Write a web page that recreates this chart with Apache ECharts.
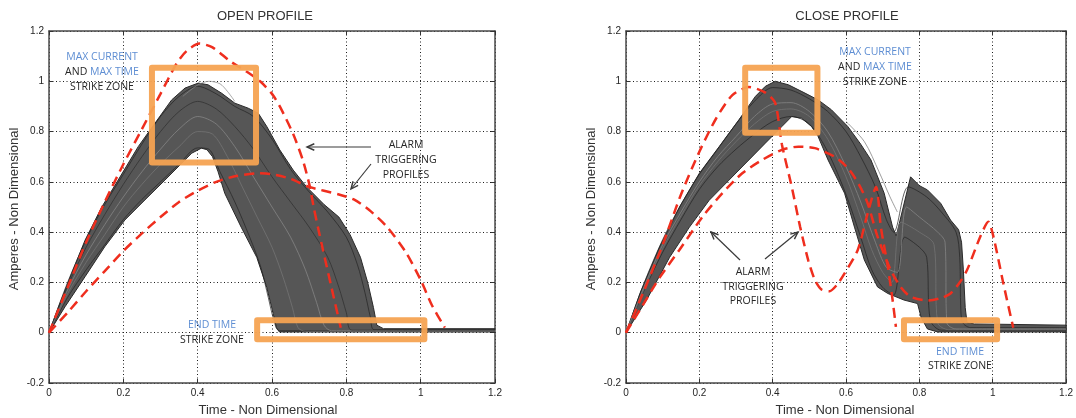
<!DOCTYPE html>
<html><head><meta charset="utf-8">
<script src="https://cdn.jsdelivr.net/npm/echarts@6/dist/echarts.min.js"></script>
<style>html,body{margin:0;padding:0;background:#fff}#c{width:1076px;height:418px}</style>
</head><body><div id="c"></div>
<script>
// ---------- axis setup ----------
const X_MIN = 0, X_MAX = 1.2, X_STEP = 0.2;
const Y_MIN = -0.2, Y_MAX = 1.2, Y_STEP = 0.2;
const titles = ['OPEN PROFILE', 'CLOSE PROFILE'];
const xName = 'Time - Non Dimensional';
const yName = 'Amperes - Non Dimensional';

// ---------- OPEN PROFILE data ----------
const openBundleUpper = [[0,0],[0.025,0.10],[0.061,0.236],[0.097,0.368],[0.142,0.50],[0.186,0.607],[0.24,0.74],[0.285,0.833],[0.33,0.926],[0.366,0.973],[0.402,0.993],[0.428,0.986],[0.464,0.953],[0.5,0.913],[0.536,0.893],[0.563,0.873],[0.586,0.82],[0.621,0.727],[0.657,0.647],[0.693,0.58],[0.74,0.51],[0.78,0.46],[0.81,0.39],[0.838,0.3],[0.858,0.197],[0.873,0.1],[0.882,0.03],[0.9,0.016],[1.2,0.016]];
const openBundleLower = [[1.2,0.003],[0.62,0.003],[0.612,0.02],[0.603,0.077],[0.586,0.18],[0.559,0.30],[0.517,0.42],[0.473,0.554],[0.455,0.64],[0.44,0.70],[0.425,0.728],[0.41,0.734],[0.384,0.714],[0.357,0.674],[0.312,0.607],[0.258,0.528],[0.204,0.448],[0.15,0.342],[0.097,0.223],[0.043,0.103],[0,0]];
const openCurveA = [[0,0],[0.05,0.2],[0.1,0.37],[0.15,0.51],[0.2,0.63],[0.25,0.75],[0.3,0.86],[0.35,0.94],[0.4,0.98],[0.45,0.95],[0.5,0.9],[0.55,0.86],[0.6,0.77],[0.65,0.65],[0.7,0.56],[0.75,0.48],[0.8,0.38],[0.83,0.27],[0.85,0.16],[0.865,0.06],[0.875,0.012],[1.2,0.012]];
const openCurveB = [[0,0],[0.05,0.14],[0.1,0.25],[0.15,0.35],[0.2,0.45],[0.25,0.53],[0.3,0.6],[0.35,0.67],[0.4,0.735],[0.43,0.73],[0.46,0.64],[0.5,0.52],[0.54,0.38],[0.57,0.26],[0.59,0.14],[0.605,0.05],[0.62,0.008],[1.2,0.008]];
const openCurveC = [[0,0],[0.05,0.17],[0.1,0.31],[0.15,0.43],[0.2,0.54],[0.25,0.64],[0.3,0.73],[0.35,0.81],[0.4,0.86],[0.45,0.83],[0.5,0.74],[0.55,0.62],[0.6,0.5],[0.65,0.38],[0.69,0.25],[0.72,0.12],[0.74,0.03],[0.76,0.008],[1.2,0.008]];
const openCurveD = [[0,0],[0.05,0.185],[0.1,0.34],[0.15,0.47],[0.2,0.59],[0.25,0.7],[0.3,0.8],[0.35,0.88],[0.4,0.92],[0.45,0.89],[0.5,0.82],[0.55,0.73],[0.6,0.62],[0.65,0.52],[0.7,0.42],[0.75,0.3],[0.78,0.18],[0.8,0.08],[0.815,0.01],[1.2,0.01]];
const openCurveE = [[0,0],[0.05,0.155],[0.1,0.28],[0.15,0.39],[0.2,0.5],[0.25,0.59],[0.3,0.67],[0.35,0.74],[0.4,0.8],[0.44,0.79],[0.48,0.7],[0.52,0.58],[0.56,0.46],[0.6,0.34],[0.63,0.22],[0.655,0.1],[0.67,0.02],[0.69,0.006],[1.2,0.006]];
const openOutlier = [[0.36,0.94],[0.4,0.985],[0.43,1.0],[0.46,0.99],[0.48,0.96],[0.5,0.92]];
const openAlarmTall = [[0,0],[0.05,0.18],[0.1,0.36],[0.15,0.52],[0.2,0.67],[0.25,0.81],[0.3,0.95],[0.343,1.07],[0.37,1.12],[0.405,1.15],[0.44,1.135],[0.487,1.08],[0.53,1.04],[0.568,1.0],[0.6,0.95],[0.621,0.9],[0.657,0.79],[0.683,0.686],[0.702,0.58],[0.712,0.5],[0.725,0.41],[0.737,0.33],[0.76,0.18],[0.785,0.02]];
const openAlarmWide = [[0,0],[0.05,0.08],[0.1,0.165],[0.15,0.245],[0.2,0.325],[0.25,0.395],[0.3,0.46],[0.35,0.52],[0.4,0.565],[0.45,0.6],[0.5,0.622],[0.56,0.634],[0.6,0.63],[0.65,0.612],[0.7,0.58],[0.78,0.55],[0.82,0.53],[0.86,0.49],[0.91,0.42],[0.96,0.32],[1.0,0.21],[1.03,0.11],[1.065,0.02]];
const openMaxBox = [[0.277,1.054],[0.557,0.677]];
const openEndBox = [[0.56,0.05],[1.01,-0.026]];

// ---------- CLOSE PROFILE data ----------
const closeBundleUpper = [[0,0],[0.038,0.156],[0.092,0.342],[0.146,0.50],[0.2,0.634],[0.254,0.74],[0.308,0.847],[0.353,0.94],[0.38,0.98],[0.407,1.0],[0.443,0.986],[0.488,0.953],[0.524,0.926],[0.56,0.887],[0.605,0.82],[0.64,0.75],[0.668,0.687],[0.704,0.555],[0.727,0.42],[0.737,0.385],[0.776,0.62],[0.8,0.585],[0.822,0.568],[0.858,0.515],[0.885,0.448],[0.907,0.41],[0.915,0.36],[0.92,0.25],[0.925,0.1],[0.93,0.04],[0.95,0.035],[1.2,0.03]];
const closeBundleLower = [[1.2,0.003],[0.85,0.003],[0.822,0.015],[0.805,0.06],[0.795,0.116],[0.758,0.13],[0.714,0.156],[0.686,0.182],[0.65,0.289],[0.623,0.42],[0.596,0.555],[0.551,0.687],[0.524,0.78],[0.506,0.82],[0.479,0.853],[0.452,0.86],[0.425,0.82],[0.38,0.754],[0.335,0.687],[0.281,0.607],[0.227,0.527],[0.173,0.42],[0.119,0.30],[0.056,0.13],[0,0]];
const closeCurveA = [[0,0],[0.05,0.2],[0.1,0.37],[0.15,0.51],[0.2,0.63],[0.25,0.73],[0.3,0.83],[0.35,0.92],[0.4,0.975],[0.45,0.965],[0.5,0.93],[0.55,0.88],[0.6,0.8],[0.64,0.7],[0.68,0.58],[0.71,0.45],[0.73,0.4],[0.77,0.58],[0.82,0.54],[0.86,0.48],[0.9,0.4],[0.91,0.3],[0.915,0.05],[0.94,0.02],[1.2,0.02]];
const closeCurveB = [[0,0],[0.05,0.17],[0.1,0.32],[0.15,0.45],[0.2,0.57],[0.25,0.66],[0.3,0.73],[0.35,0.79],[0.4,0.84],[0.45,0.86],[0.5,0.83],[0.55,0.72],[0.6,0.55],[0.64,0.38],[0.67,0.25],[0.7,0.18],[0.73,0.15],[0.76,0.38],[0.8,0.34],[0.82,0.3],[0.83,0.05],[0.86,0.01],[1.2,0.01]];
const closeCurveC = [[0,0],[0.05,0.185],[0.1,0.35],[0.15,0.48],[0.2,0.6],[0.25,0.7],[0.3,0.78],[0.35,0.86],[0.4,0.91],[0.45,0.915],[0.5,0.88],[0.55,0.8],[0.6,0.66],[0.64,0.52],[0.68,0.36],[0.71,0.26],[0.74,0.24],[0.765,0.5],[0.8,0.46],[0.85,0.4],[0.87,0.36],[0.875,0.04],[0.9,0.015],[1.2,0.015]];
const closeCurveD = [[0,0],[0.05,0.175],[0.1,0.335],[0.15,0.465],[0.2,0.585],[0.25,0.68],[0.3,0.76],[0.35,0.83],[0.4,0.88],[0.45,0.89],[0.5,0.86],[0.55,0.77],[0.6,0.62],[0.64,0.46],[0.67,0.33],[0.7,0.24],[0.725,0.2],[0.75,0.44],[0.8,0.4],[0.84,0.35],[0.85,0.04],[0.88,0.012],[1.2,0.012]];
const closeOutlier = [[0.6,0.84],[0.65,0.76],[0.69,0.64],[0.72,0.54],[0.74,0.48]];
const closeAlarmA = [[0,0],[0.05,0.17],[0.1,0.35],[0.15,0.55],[0.2,0.72],[0.245,0.85],[0.29,0.945],[0.335,0.977],[0.38,0.955],[0.407,0.913],[0.425,0.75],[0.452,0.58],[0.475,0.42],[0.497,0.288],[0.515,0.21],[0.533,0.172],[0.555,0.165],[0.575,0.19],[0.596,0.236],[0.632,0.329],[0.659,0.475],[0.682,0.58],[0.695,0.42],[0.714,0.262],[0.727,0.13],[0.736,0.023]];
const closeAlarmB = [[0,0],[0.05,0.12],[0.092,0.22],[0.146,0.33],[0.209,0.462],[0.263,0.555],[0.317,0.634],[0.371,0.687],[0.425,0.727],[0.47,0.74],[0.515,0.734],[0.569,0.70],[0.605,0.655],[0.635,0.59],[0.659,0.515],[0.686,0.382],[0.722,0.249],[0.75,0.18],[0.776,0.143],[0.822,0.128],[0.86,0.138],[0.885,0.156],[0.91,0.2],[0.93,0.249],[0.966,0.382],[0.988,0.441],[1.002,0.382],[1.029,0.196],[1.056,0.02]];
const closeMaxBox = [[0.325,1.054],[0.522,0.795]];
const closeEndBox = [[0.758,0.05],[1.012,-0.026]];

// ---------- styles ----------
const RED = '#EF2E1E', ORANGE = '#F6A352', BLUE = '#5E8ED3', INK = '#262626';
const chart = echarts.init(document.getElementById('c'), null, {renderer: 'canvas'});

const grids = [
  {left: 49, top: 31, width: 446, height: 352},
  {left: 626, top: 31, width: 444, height: 352}
];
const fmt = v => String(+v.toFixed(1));
const axisLineStyle = {color: '#4a4a4a', width: 1.5};
const tickStyle = {inside: true, length: 4, lineStyle: {color: '#333', width: 1}};
const gridLine = {show: true, lineStyle: {color: '#1e1e1e', width: 1, type: [1, 2.5]}};

const xAxes = [], yAxes = [];
grids.forEach((g, i) => {
  xAxes.push({gridIndex: i, type: 'value', min: X_MIN, max: X_MAX, interval: X_STEP, position: 'bottom',
    axisLine: {onZero: false, lineStyle: axisLineStyle}, axisTick: tickStyle, splitLine: gridLine,
    axisLabel: {formatter: fmt, color: INK, fontSize: 10, fontFamily: 'Liberation Sans', margin: 5}});
  xAxes.push({gridIndex: i, type: 'value', min: X_MIN, max: X_MAX, interval: X_STEP, position: 'top',
    axisLine: {onZero: false, lineStyle: axisLineStyle}, axisTick: tickStyle, splitLine: {show: false},
    axisLabel: {show: false}});
  yAxes.push({gridIndex: i, type: 'value', min: Y_MIN, max: Y_MAX, interval: Y_STEP, position: 'left',
    axisLine: {show: true, onZero: false, lineStyle: axisLineStyle}, axisTick: tickStyle, splitLine: gridLine,
    axisLabel: {formatter: fmt, color: INK, fontSize: 10, fontFamily: 'Liberation Sans', margin: 5}});
  yAxes.push({gridIndex: i, type: 'value', min: Y_MIN, max: Y_MAX, interval: Y_STEP, position: 'right',
    axisLine: {show: true, onZero: false, lineStyle: axisLineStyle}, axisTick: tickStyle, splitLine: {show: false},
    axisLabel: {show: false}});
});

function bundle(i, upper, lower) {
  const poly = upper.concat(lower);
  return {type: 'custom', xAxisIndex: i * 2, yAxisIndex: i * 2, data: [[0, 0]], clip: true, z: 2, silent: true,
    renderItem: (p, api) => ({type: 'polygon', shape: {points: poly.map(pt => api.coord(pt))},
      style: {fill: '#565656', stroke: '#2a2a2a', lineWidth: 1}})};
}
function curve(i, data, color, width, opacity) {
  return {type: 'line', xAxisIndex: i * 2, yAxisIndex: i * 2, data, showSymbol: false, symbol: 'none', smooth: 0.3,
    z: 3, silent: true, lineStyle: {color, width, opacity}};
}
function alarm(i, data) {
  return {type: 'line', xAxisIndex: i * 2, yAxisIndex: i * 2, data, symbol: 'none', smooth: 0.25, z: 5, silent: true,
    lineStyle: {color: RED, width: 2.5, type: [10, 6]}};
}
function box(i, b) {
  const [[x0, y0], [x1, y1]] = b;
  return {type: 'line', xAxisIndex: i * 2, yAxisIndex: i * 2, symbol: 'none', z: 6, silent: true,
    data: [[x0, y0], [x1, y0], [x1, y1], [x0, y1], [x0, y0]],
    lineStyle: {color: ORANGE, width: 6, join: 'round', cap: 'round', opacity: 0.95}};
}

const series = [
  bundle(0, openBundleUpper, openBundleLower),
  curve(0, openCurveA, '#242424', 0.9, 0.8), curve(0, openCurveB, '#242424', 0.9, 0.8),
  curve(0, openCurveC, '#8a8a8a', 0.9, 0.8), curve(0, openCurveD, '#2e2e2e', 0.9, 0.8),
  curve(0, openCurveE, '#7a7a7a', 0.8, 0.8),
  curve(0, openOutlier, '#8a8a8a', 0.8, 0.9),
  alarm(0, openAlarmTall), alarm(0, openAlarmWide),
  box(0, openMaxBox), box(0, openEndBox),
  bundle(1, closeBundleUpper, closeBundleLower),
  curve(1, closeCurveA, '#242424', 0.9, 0.8), curve(1, closeCurveB, '#242424', 0.9, 0.8),
  curve(1, closeCurveC, '#8a8a8a', 0.9, 0.8), curve(1, closeCurveD, '#7a7a7a', 0.8, 0.8),
  curve(1, closeOutlier, '#777', 0.8, 0.9),
  alarm(1, closeAlarmA), alarm(1, closeAlarmB),
  box(1, closeMaxBox), box(1, closeEndBox)
];

// ---------- text & arrows ----------
const AF = '"Open Sans", sans-serif';
function txt(x, y, text, color, size, family, extra) {
  return Object.assign({type: 'text', x, y, z: 20, silent: true,
    style: {text, fill: color, font: size + 'px ' + family, align: 'center', verticalAlign: 'middle'}}, extra || {});
}
function rich(x, y) {
  return {type: 'text', x, y, z: 20, silent: true,
    style: {text: 'AND {b|MAX TIME}', fill: INK, font: '10.5px ' + AF, align: 'center', verticalAlign: 'middle',
      rich: {b: {fill: BLUE, font: '10.5px ' + AF}}}};
}
function arrow(x1, y1, x2, y2) {
  const a = Math.atan2(y2 - y1, x2 - x1), L = 8, w = 0.42;
  const p1 = [x2 - L * Math.cos(a - w), y2 - L * Math.sin(a - w)];
  const p2 = [x2 - L * Math.cos(a + w), y2 - L * Math.sin(a + w)];
  return [
    {type: 'line', z: 20, silent: true, shape: {x1, y1, x2, y2}, style: {stroke: '#3a3a3a', lineWidth: 1.2}},
    {type: 'polyline', z: 20, silent: true, shape: {points: [p1, [x2, y2], p2]}, style: {stroke: '#3a3a3a', lineWidth: 1.4, fill: null}}
  ];
}
const TF = '"Liberation Sans", Arial, sans-serif';
const graphics = [
  txt(265, 16, titles[0], '#333', 13, TF), txt(847, 16, titles[1], '#333', 13, TF),
  txt(14, 209, yName, '#333', 13, TF, {rotation: Math.PI / 2}),
  txt(591, 209, yName, '#333', 13, TF, {rotation: Math.PI / 2}),
  txt(268, 410, xName, '#333', 13, TF), txt(845, 410, xName, '#333', 13, TF),
  // open annotations
  txt(102, 57, 'MAX CURRENT', BLUE, 10.5, AF), rich(102, 72), txt(102, 87, 'STRIKE ZONE', INK, 10.5, AF),
  txt(212, 325, 'END TIME', BLUE, 10.5, AF), txt(212, 340, 'STRIKE ZONE', INK, 10.5, AF),
  txt(406, 145, 'ALARM', INK, 10.5, AF), txt(406, 160, 'TRIGGERING', INK, 10.5, AF), txt(406, 175, 'PROFILES', INK, 10.5, AF),
  ...arrow(371, 147, 307, 147), ...arrow(371, 164, 351, 189),
  // close annotations
  txt(875, 52, 'MAX CURRENT', BLUE, 10.5, AF), rich(875, 67), txt(875, 82, 'STRIKE ZONE', INK, 10.5, AF),
  txt(960, 352, 'END TIME', BLUE, 10.5, AF), txt(960, 366, 'STRIKE ZONE', INK, 10.5, AF),
  txt(753, 272, 'ALARM', INK, 10.5, AF), txt(753, 287, 'TRIGGERING', INK, 10.5, AF), txt(753, 301, 'PROFILES', INK, 10.5, AF),
  ...arrow(740, 260, 711, 232), ...arrow(765, 259, 798, 232)
];

chart.setOption({
  animation: false,
  backgroundColor: '#fff',
  grid: grids,
  xAxis: xAxes,
  yAxis: yAxes,
  series,
  graphic: graphics
});
</script></body></html>
